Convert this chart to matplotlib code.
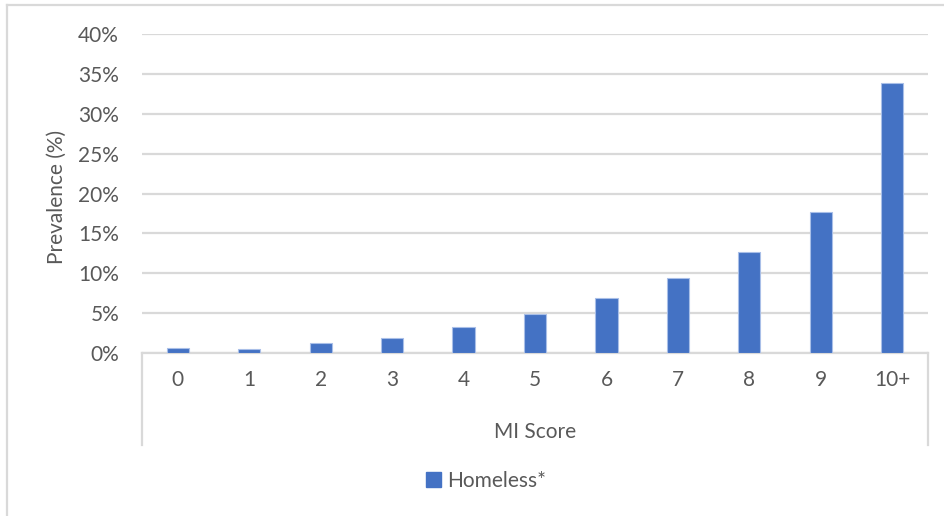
import matplotlib.pyplot as plt
from matplotlib.lines import Line2D
from matplotlib.patches import Patch

# prevalence by MI score, in percent
scores = ['0', '1', '2', '3', '4', '5', '6', '7', '8', '9', '10+']
prevalence = [0.6, 0.5, 1.2, 1.9, 3.3, 4.9, 6.9, 9.4, 12.7, 17.7, 33.8]
y_ticks = [0, 5, 10, 15, 20, 25, 30, 35, 40]

plt.rcParams['font.family'] = ['Lato', 'DejaVu Sans']
text_color = '#595959'
grid_color = '#d9d9d9'
bar_color = '#4472c4'
fs = 15

W, H = 944, 516
fig = plt.figure(figsize=(W / 100, H / 100), dpi=100)

left, right, bottom, top = 142, 928, 353, 34
ax = fig.add_axes([left / W, 1 - bottom / H, (right - left) / W, (bottom - top) / H])

x = list(range(len(scores)))
ax.bar(x, prevalence, width=0.31, color=bar_color, edgecolor='#a9bfe8',
       linewidth=0.8, zorder=3)

ax.set_xlim(-0.5, len(scores) - 0.5)
ax.set_ylim(0, 40)
ax.set_yticks(y_ticks)
ax.set_yticklabels([f'{t}%' for t in y_ticks])
ax.set_xticks(x)
ax.set_xticklabels(scores)
ax.tick_params(axis='y', length=0, pad=16.5, labelsize=fs, labelcolor=text_color)
ax.tick_params(axis='x', length=0, pad=12, labelsize=fs, labelcolor=text_color)
ax.grid(axis='y', color=grid_color, linewidth=1.6, zorder=0)
ax.grid(axis='x', visible=False)
for s in ['top', 'right', 'left']:
    ax.spines[s].set_visible(False)
ax.spines['bottom'].set_color(grid_color)
ax.spines['bottom'].set_linewidth(1.6)

# category axis box below the plot
def fx(px):
    return px / W

def fy(py):
    return 1 - py / H

fig.text(fx(57), fy(197), 'Prevalence (%)', rotation=90, ha='center', va='center',
         fontsize=fs, color=text_color)

for px in (left, right):
    fig.add_artist(Line2D([fx(px), fx(px)], [fy(bottom), fy(445)],
                          color=grid_color, linewidth=1.6))

fig.text(fx((left + right) / 2), fy(432), 'MI Score', ha='center', va='center',
         fontsize=fs, color=text_color)

# chart border (top and left edges)
fig.add_artist(Line2D([fx(7), fx(7)], [fy(5), 0], color=grid_color, linewidth=1.6))
fig.add_artist(Line2D([fx(7), 1], [fy(5), fy(5)], color=grid_color, linewidth=1.6))

handle = Patch(facecolor=bar_color, edgecolor=bar_color)
fig.legend([handle], ['Homeless*'], loc='center', bbox_to_anchor=(fx(486), fy(481)),
           frameon=False, fontsize=fs, labelcolor=text_color, handlelength=0.7,
           handleheight=0.7, handletextpad=0.3)

fig.savefig('out.png', dpi=100)
